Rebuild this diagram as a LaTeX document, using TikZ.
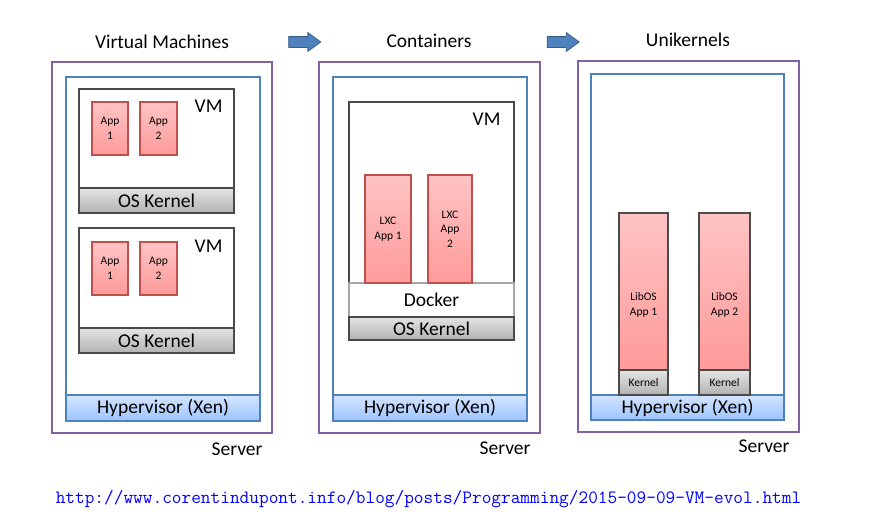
\documentclass[tikz,border=0pt]{standalone}
\usepackage{fontspec}
\setmainfont{Carlito}
\usepackage{tikz}
\usetikzlibrary{shapes.arrows}
\definecolor{srvpurple}{HTML}{8064A2}
\definecolor{hostblue}{HTML}{4F81BD}
\definecolor{vmgray}{HTML}{4A4A4A}
\definecolor{dockgray}{HTML}{A6A6A6}
\definecolor{appred}{HTML}{C0504D}
\definecolor{apptop}{HTML}{FFC4C4}
\definecolor{appbot}{HTML}{FF9A9A}
\definecolor{kertop}{HTML}{E4E4E4}
\definecolor{kerbot}{HTML}{B2B2B2}
\definecolor{hyptop}{HTML}{D4E5FF}
\definecolor{hypbot}{HTML}{9CC3FF}
\definecolor{arrowedge}{HTML}{385D8A}

\begin{document}
\begin{tikzpicture}[x=1pt,y=-1pt,
	box/.style={anchor=north west,inner sep=0pt,outer sep=0pt},
	big/.style={font=\fontsize{19.5}{22}\selectfont},
	small/.style={font=\fontsize{11.5}{14.5}\selectfont,align=center},
	server/.style={box,draw=srvpurple,line width=1.8pt},
	host/.style={box,draw=hostblue,line width=1.6pt},
	hyper/.style={box,draw=hostblue,line width=1.6pt,top color=hyptop,bottom color=hypbot,big},
	vmbox/.style={box,draw=vmgray,line width=2pt,fill=white},
	kernel/.style={box,draw=vmgray,line width=2pt,top color=kertop,bottom color=kerbot,big},
	docker/.style={box,draw=dockgray,line width=1.5pt,fill=white,big},
	app/.style={box,draw=appred,line width=1.2pt,top color=apptop,bottom color=appbot,small},
	lxc/.style={app,line width=2pt},
	libos/.style={app,draw=vmgray,line width=2pt},
	bigarrow/.style={single arrow,draw=arrowedge,fill=hostblue,line width=0.8pt,minimum height=32,inner sep=5pt,single arrow head extend=4pt,single arrow tip angle=72}
]
\useasboundingbox (0,0) rectangle (876,520);

% Virtual Machines
\node[big,anchor=base] (vmtitle) at (162,48) {Virtual Machines};
\node[server,minimum width=220,minimum height=371] (srv1) at (52,62) {};
\node[host,minimum width=194,minimum height=344] (host1) at (66,77) {};
\node[hyper,minimum width=194,minimum height=26] (hyp1) at (66,395) {Hypervisor (Xen)};
\node[vmbox,minimum width=155,minimum height=124] (vm1) at (79,89) {};
\node[kernel,minimum width=155,minimum height=25] (ker1) at (79,188) {OS Kernel};
\node[app,minimum width=36,minimum height=53] (app11) at (92,102) {App\\1};
\node[app,minimum width=37,minimum height=53] (app12) at (140,102) {App\\2};
\node[big,anchor=base east] (vmlab1) at (226,112) {VM};
\node[vmbox,minimum width=155,minimum height=125] (vm2) at (79,228) {};
\node[kernel,minimum width=155,minimum height=25] (ker2) at (79,328) {OS Kernel};
\node[app,minimum width=36,minimum height=53] (app21) at (92,242) {App\\1};
\node[app,minimum width=37,minimum height=53] (app22) at (140,242) {App\\2};
\node[big,anchor=base east] (vmlab2) at (226,252.5) {VM};
\node[big,anchor=base] (srvlab1) at (237,455) {Server};

\node[bigarrow] (arr1) at (301,42) {};

% Containers
\node[big,anchor=base] (cttitle) at (429,47.5) {Containers};
\node[server,minimum width=221,minimum height=371] (srv2) at (319,62) {};
\node[host,minimum width=194,minimum height=344] (host2) at (333,77) {};
\node[hyper,minimum width=194,minimum height=26] (hyp2) at (333,395) {Hypervisor (Xen)};
\node[vmbox,minimum width=165,minimum height=238] (vm3) at (349,102) {};
\node[docker,minimum width=165,minimum height=34] (dock) at (349,283) {Docker};
\node[kernel,minimum width=165,minimum height=23] (ker3) at (349,317) {OS Kernel};
\node[lxc,minimum width=46,minimum height=108] (lxc1) at (365,175) {LXC\\App 1};
\node[lxc,minimum width=44,minimum height=108] (lxc2) at (428,175) {LXC\\App\\2};
\node[big,anchor=base east] (vmlab3) at (504,125) {VM};
\node[big,anchor=base] (srvlab2) at (505,454.5) {Server};

\node[bigarrow] (arr2) at (559.5,42) {};

% Unikernels
\node[big,anchor=base] (uktitle) at (688,46) {Unikernels};
\node[server,minimum width=221,minimum height=371] (srv3) at (578,61) {};
\node[host,minimum width=193,minimum height=346] (host3) at (591,74) {};
\node[hyper,minimum width=193,minimum height=25] (hyp3) at (591,395) {Hypervisor (Xen)};
\node[libos,minimum width=49,minimum height=157] (lib1) at (619,213) {};
\node[kernel,small,minimum width=49,minimum height=25] (libker1) at (619,370) {Kernel};
\node[small] (libtxt1) at (643.5,305) {LibOS\\App 1};
\node[libos,minimum width=51,minimum height=157] (lib2) at (699,213) {};
\node[kernel,small,minimum width=51,minimum height=25] (libker2) at (699,370) {Kernel};
\node[small] (libtxt2) at (724.5,305) {LibOS\\App 2};
\node[big,anchor=base] (srvlab3) at (764,452.5) {Server};

\node[font=\ttfamily\fontsize{18.8}{20}\selectfont,text=blue,anchor=base] (url) at (428.5,503) {http://www.corentindupont.info/blog/posts/Programming/2015-09-09-VM-evol.html};
\end{tikzpicture}
\end{document}
